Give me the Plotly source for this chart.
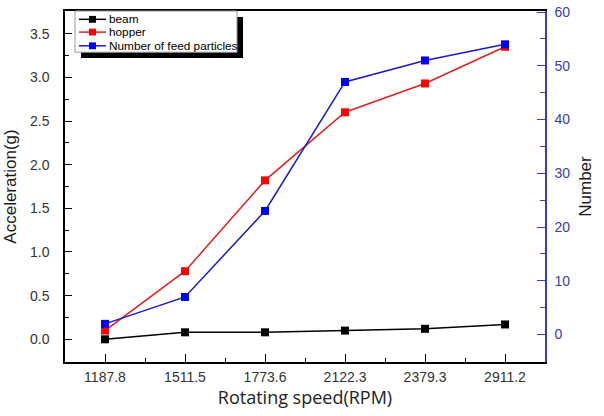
import plotly.graph_objects as go

speeds = ["1187.8", "1511.5", "1773.6", "2122.3", "2379.3", "2911.2"]
beam = [0.0, 0.08, 0.08, 0.10, 0.12, 0.17]
hopper = [0.10, 0.78, 1.82, 2.60, 2.93, 3.35]
feed_particles = [2, 7, 23, 47, 51, 54]

series_names = ["beam", "hopper", "Number of feed particles"]
line_colors = ["black", "#e02020", "#1a1ac8"]
marker_colors = ["black", "#ff0000", "#0000ff"]

xpos = list(range(len(speeds)))

W, H = 604, 416
ML, MR, MT, MB = 65, 59, 4, 54
PW, PH = W - ML - MR, H - MT - MB


def px(x):
    return (x - ML) / PW


def py(y):
    return (H - MB - y) / PH


fig = go.Figure()
fig.add_trace(go.Scatter(x=xpos, y=beam, name=series_names[0], mode="lines+markers",
                         line=dict(color=line_colors[0], width=1.5),
                         marker=dict(symbol="square", size=8, color=marker_colors[0])))
fig.add_trace(go.Scatter(x=xpos, y=hopper, name=series_names[1], mode="lines+markers",
                         line=dict(color=line_colors[1], width=1.5),
                         marker=dict(symbol="square", size=8, color=marker_colors[1])))
fig.add_trace(go.Scatter(x=xpos, y=feed_particles, name=series_names[2],
                         mode="lines+markers", yaxis="y2",
                         line=dict(color=line_colors[2], width=1.5),
                         marker=dict(symbol="square", size=8, color=marker_colors[2])))

tickfont = dict(family="Liberation Sans, Arial", size=14, color="#333333")
titlefont = dict(family="Liberation Sans, Arial", size=17, color="#1a1a1a")
fig.update_layout(
    width=W, height=H,
    margin=dict(l=ML, r=MR, t=MT, b=MB),
    paper_bgcolor="white", plot_bgcolor="white",
    showlegend=False,
    xaxis=dict(range=[-0.5, 5.5], tickvals=xpos, ticktext=speeds,
               showgrid=False, zeroline=False,
               showline=True, linecolor="black", linewidth=1.5, mirror=True,
               ticks="inside", ticklen=8, tickcolor="black", tickwidth=1.2,
               ticklabelstandoff=1,
               minor=dict(dtick=0.5, tick0=0.5, ticks="inside", ticklen=4, tickcolor="black"),
               tickfont=tickfont,
               title=dict(text="Rotating speed(RPM)",
                          font=dict(family="Open Sans, Arial", size=18, color="#222222"),
                          standoff=7)),
    yaxis=dict(range=[-0.26, 3.76], dtick=0.5, tick0=0, tickformat=".1f",
               showgrid=False, zeroline=False,
               showline=True, linecolor="black", linewidth=1.5,
               ticks="inside", ticklen=7, tickcolor="black", tickwidth=1.2,
               ticklabelstandoff=11,
               minor=dict(dtick=0.25, tick0=0, ticks="inside", ticklen=4, tickcolor="black"),
               tickfont=tickfont,
               title=dict(text="Acceleration(g)", font=titlefont, standoff=9)),
    yaxis2=dict(range=[-5.1, 60.2], dtick=10, tick0=0, overlaying="y", side="right",
                showgrid=False, zeroline=False,
                showline=True, linecolor="#3a3ac8", linewidth=1.5,
                ticks="inside", ticklen=8, tickcolor="#3a3ac8", tickwidth=1.2,
                ticklabelstandoff=5,
                ticklabeloverflow="allow",
                minor=dict(dtick=5, tick0=0, ticks="inside", ticklen=5, tickcolor="#3a3ac8"),
                tickfont=dict(family="Liberation Sans, Arial", size=14, color="#3a3ab4"),
                title=dict(text="Number", font=titlefont, standoff=10)),
)

# Manual legend (box with drop shadow)
bx0, bx1, by0, by1 = 75, 237, 4, 46
sh = 6
fig.add_shape(type="rect", xref="paper", yref="paper",
              x0=px(bx0 + sh), x1=px(bx1 + sh), y0=py(by1 + sh), y1=py(by0 + sh),
              fillcolor="black", line=dict(width=0), layer="above")
fig.add_shape(type="rect", xref="paper", yref="paper",
              x0=px(bx0), x1=px(bx1), y0=py(by1), y1=py(by0),
              fillcolor="white", line=dict(color="#9a9a9a", width=1), layer="above")
row_y = [12.5, 25.5, 39.5]
for name, lc, mc, ry in zip(series_names, line_colors, marker_colors, row_y):
    fig.add_shape(type="line", xref="paper", yref="paper",
                  x0=px(79), x1=px(106), y0=py(ry), y1=py(ry),
                  line=dict(color=lc, width=1.5), layer="above")
    fig.add_shape(type="rect", xref="paper", yref="paper",
                  x0=px(89), x1=px(96), y0=py(ry + 3.5), y1=py(ry - 3.5),
                  fillcolor=mc, line=dict(width=0), layer="above")
    fig.add_annotation(xref="paper", yref="paper", x=px(106.5), y=py(ry),
                       text=name, showarrow=False, xanchor="left", yanchor="middle",
                       font=dict(family="Liberation Sans, Arial", size=11.8, color="black"))

fig.write_html("out.html")
